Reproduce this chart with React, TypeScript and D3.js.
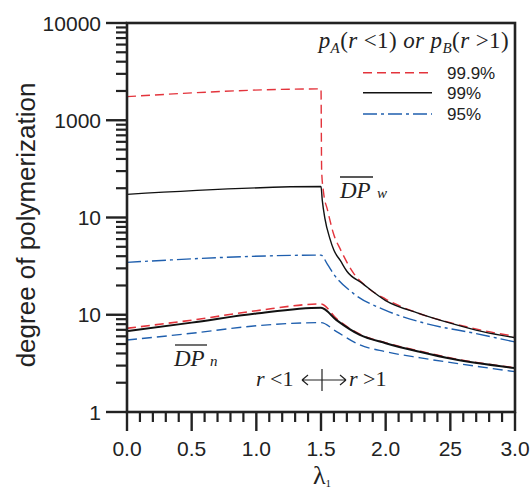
import React from "react";
import * as d3 from "d3";

// ---- data ----
const yTickValues = [1, 10, 100, 1000, 10000];
const yTickLabels = ["1", "10", "10", "1000", "10000"];
const xTickValues = [0, 0.5, 1.0, 1.5, 2.0, 2.5, 3.0];
const xTickLabels = ["0.0", "0.5", "1.0", "1.5", "2.0", "25", "3.0"];

// DPw curves
const lamW999 = [0, 1.5, 1.505, 1.52, 1.55, 1.6, 1.65, 1.75, 1.85, 2.0, 2.25, 2.5, 2.75, 3.0];
const dpW999 = [1750, 2100, 300, 180, 120, 66, 47, 27, 19.5, 14.5, 10.4, 8.3, 6.9, 6.0];
const lamW99 = [0, 1.5, 1.51, 1.53, 1.57, 1.6, 1.65, 1.7, 1.82, 2.0, 2.25, 2.5, 2.75, 3.0];
const dpW99 = [173, 208, 150, 98, 60, 46, 36, 28, 21, 14, 10.4, 8.2, 6.7, 5.8];
const lamW95 = [0, 1.5, 1.55, 1.6, 1.75, 2.0, 2.3, 2.7, 3.0];
const dpW95 = [34.6, 41, 33, 26, 16.6, 11.1, 8.2, 6.4, 5.25];

// DPn curves
const lamN = [0, 0.5, 1.0, 1.5, 1.62, 1.8, 2.0, 2.27, 2.52, 3.0];
const dpN999 = [7.26, 8.8, 11.0, 12.9, 9.1, 6.3, 5.15, 4.2, 3.55, 2.85];
const dpN99 = [6.8, 8.3, 10.3, 11.8, 8.8, 6.2, 5.1, 4.14, 3.5, 2.83];
const dpN95 = [5.5, 6.45, 7.7, 8.3, 6.7, 4.9, 4.17, 3.6, 3.2, 2.6];

const legendLabels = ["99.9%", "99%", "95%"];

const RED = "#e3343c";
const BLUE = "#1f5fae";
const SANS = "'Liberation Sans', Arial, sans-serif";
const SERIF = "'Liberation Serif', 'Times New Roman', serif";

export default function App() {
  const x = d3.scaleLinear().domain([0, 3]).range([127, 515]);
  const y = d3.scaleLog().domain([1, 10000]).range([412, 23]);
  const line = d3
    .line<[number, number]>()
    .x((d) => x(d[0]))
    .y((d) => y(d[1]))
    .curve(d3.curveMonotoneX);
  const zip = (a: number[], b: number[]) => a.map((v, i) => [v, b[i]] as [number, number]);

  const series = [
    { d: zip(lamW999, dpW999), color: RED, dash: "9 5", w: 1.4 },
    { d: zip(lamW99, dpW99), color: "#111", dash: "", w: 1.4 },
    { d: zip(lamW95, dpW95), color: BLUE, dash: "14 4 3 4", w: 1.4 },
    { d: zip(lamN, dpN999), color: RED, dash: "9 5", w: 1.6 },
    { d: zip(lamN, dpN99), color: "#111", dash: "", w: 2 },
    { d: zip(lamN, dpN95), color: BLUE, dash: "10 5", w: 1.4 },
  ];

  // minor ticks
  const yMinor: number[] = [];
  for (let e = 0; e < 4; e++) for (let k = 2; k <= 9; k++) yMinor.push(k * Math.pow(10, e));
  const xMinor: number[] = d3.range(0, 31).map((i) => i / 10).filter((_, i) => i % 5 !== 0);

  const legendStyles = [
    { color: RED, dash: "9 5" },
    { color: "#111", dash: "" },
    { color: BLUE, dash: "14 4 3 4" },
  ];
  const legendY = [72.7, 92.7, 114];

  return (
    <svg width={530} height={492} style={{ position: "absolute", left: 0, top: 0, background: "#fff" }}>
      {/* curves */}
      {series.map((s, i) => (
        <path key={i} d={line(s.d) || ""} fill="none" stroke={s.color} strokeWidth={s.w} strokeDasharray={s.dash} />
      ))}

      {/* frame */}
      <rect x={127} y={23} width={388} height={389} fill="none" stroke="#222" strokeWidth={2.6} />

      {/* y ticks */}
      {yTickValues.map((v) => (
        <line key={"ym" + v} x1={106} x2={127} y1={y(v)} y2={y(v)} stroke="#222" strokeWidth={2.4} />
      ))}
      {yMinor.map((v) => (
        <line key={"yn" + v} x1={116} x2={127} y1={y(v)} y2={y(v)} stroke="#222" strokeWidth={2.2} />
      ))}
      {yTickValues.map((v, i) => (
        <text key={"yl" + v} x={101} y={y(v)} dy="0.36em" textAnchor="end" fontFamily={SANS} fontSize={21} fill="#222">
          {yTickLabels[i]}
        </text>
      ))}

      {/* x ticks */}
      {xTickValues.map((v) => (
        <line key={"xm" + v} x1={x(v)} x2={x(v)} y1={412} y2={431} stroke="#222" strokeWidth={2.4} />
      ))}
      {xMinor.map((v) => (
        <line key={"xn" + v} x1={x(v)} x2={x(v)} y1={412} y2={422} stroke="#222" strokeWidth={2.2} />
      ))}
      {xTickValues.map((v, i) => (
        <text key={"xl" + v} x={x(v)} y={456} textAnchor="middle" fontFamily={SANS} fontSize={21} fill="#222">
          {xTickLabels[i]}
        </text>
      ))}

      {/* axis titles */}
      <text x={322} y={484} textAnchor="middle" fontFamily={SERIF} fontSize={26} fill="#222">
        λ<tspan fontSize={11} dy={3}>1</tspan>
      </text>
      <text
        transform="translate(35,225) rotate(-90)"
        textAnchor="middle"
        fontFamily={SANS}
        fontSize={26}
        fill="#222"
      >
        degree of polymerization
      </text>

      {/* legend */}
      <text x={509} y={48} textAnchor="end" fontFamily={SERIF} fontSize={23} letterSpacing={0.4} fill="#222">
        <tspan fontStyle="italic">p</tspan>
        <tspan fontSize={15} dy={5} fontStyle="italic">A</tspan>
        <tspan dy={-5}>(</tspan>
        <tspan fontStyle="italic">r</tspan>
        <tspan>{" <1) "}</tspan>
        <tspan fontStyle="italic">{"or "}</tspan>
        <tspan fontStyle="italic">p</tspan>
        <tspan fontSize={15} dy={5} fontStyle="italic">B</tspan>
        <tspan dy={-5}>(</tspan>
        <tspan fontStyle="italic">r</tspan>
        <tspan>{" >1)"}</tspan>
      </text>
      {legendLabels.map((lab, i) => (
        <g key={lab}>
          <line x1={363} x2={432} y1={legendY[i]} y2={legendY[i]} stroke={legendStyles[i].color} strokeWidth={1.4} strokeDasharray={legendStyles[i].dash} />
          <text x={447} y={legendY[i] + 6} fontFamily={SANS} fontSize={17} fill="#222">
            {lab}
          </text>
        </g>
      ))}

      {/* DPw annotation */}
      <line x1={340} x2={373} y1={177} y2={177} stroke="#222" strokeWidth={1.3} />
      <text x={340} y={198} fontFamily={SERIF} fontStyle="italic" fontSize={23} fill="#222">DP</text>
      <text x={377} y={198} fontFamily={SERIF} fontStyle="italic" fontSize={15} fill="#222">w</text>

      {/* DPn annotation */}
      <line x1={175} x2={207} y1={345} y2={345} stroke="#222" strokeWidth={1.3} />
      <text x={174} y={366} fontFamily={SERIF} fontStyle="italic" fontSize={23} fill="#222">DP</text>
      <text x={210} y={366} fontFamily={SERIF} fontStyle="italic" fontSize={15} fill="#222">n</text>

      {/* r<1 <-|-> r>1 */}
      <text x={256} y={386} fontFamily={SERIF} fontSize={22} fill="#222">
        <tspan fontStyle="italic">r</tspan>
        <tspan>{" <1"}</tspan>
      </text>
      <path d="M302,380 H346 M302,380 l6,-5 M302,380 l6,5 M346,380 l-6,-5 M346,380 l-6,5 M322,369 V391" fill="none" stroke="#222" strokeWidth={1.2} />
      <text x={349} y={386} fontFamily={SERIF} fontSize={22} fill="#222">
        <tspan fontStyle="italic">r</tspan>
        <tspan>{" >1"}</tspan>
      </text>
    </svg>
  );
}
